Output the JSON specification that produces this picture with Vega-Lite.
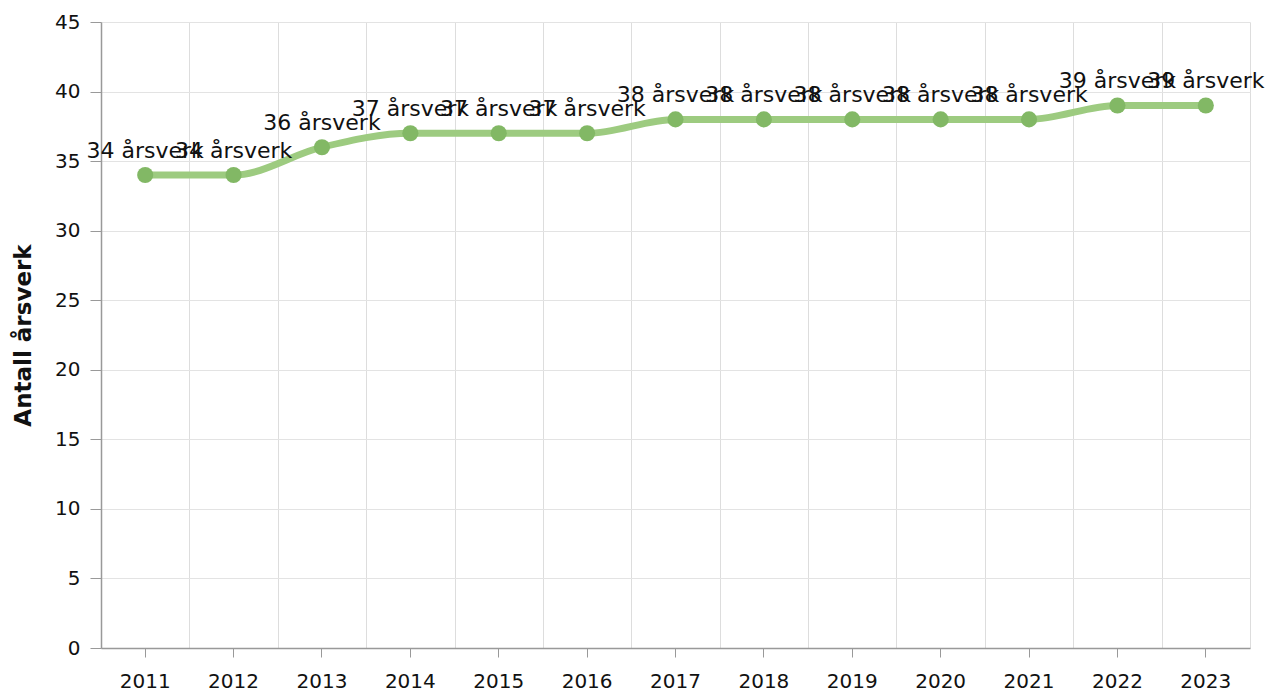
{
  "$schema": "https://vega.github.io/schema/vega-lite/v6.json",
  "width": 1149,
  "height": 626,
  "autosize": {"type": "none"},
  "padding": {"left": 101, "top": 22, "right": 17, "bottom": 46},
  "background": "white",
  "config": {
    "font": "DejaVu Sans",
    "view": {"stroke": null},
    "axis": {"labelFont": "DejaVu Sans", "titleFont": "DejaVu Sans", "labelColor": "#111", "titleColor": "#111"}
  },
  "data": {
    "values": [
      {"year": "2011", "value": 34, "label": "34 årsverk"},
      {"year": "2012", "value": 34, "label": "34 årsverk"},
      {"year": "2013", "value": 36, "label": "36 årsverk"},
      {"year": "2014", "value": 37, "label": "37 årsverk"},
      {"year": "2015", "value": 37, "label": "37 årsverk"},
      {"year": "2016", "value": 37, "label": "37 årsverk"},
      {"year": "2017", "value": 38, "label": "38 årsverk"},
      {"year": "2018", "value": 38, "label": "38 årsverk"},
      {"year": "2019", "value": 38, "label": "38 årsverk"},
      {"year": "2020", "value": 38, "label": "38 årsverk"},
      {"year": "2021", "value": 38, "label": "38 årsverk"},
      {"year": "2022", "value": 39, "label": "39 årsverk"},
      {"year": "2023", "value": 39, "label": "39 årsverk"}
    ]
  },
  "encoding": {
    "y": {"field": "value", "type": "quantitative", "scale": {"domain": [0, 45], "nice": false},
      "axis": {"title": "Antall årsverk", "titleFontSize": 23, "titleFontWeight": "bold", "titlePadding": 19, "labelFontSize": 20, "values": [0,5,10,15,20,25,30,35,40,45], "tickSize": 11, "tickColor": "#999", "domainColor": "#999", "domainWidth": 1.5, "labelPadding": 10, "gridColor": "#e3e3e3", "gridWidth": 1}}
  },
  "layer": [
    {
      "mark": {"type": "line", "interpolate": "monotone", "color": "#9dcb80", "strokeWidth": 7, "strokeCap": "round"},
      "encoding": {
        "x": {"field": "year", "type": "ordinal", "scale": {"type": "band", "paddingInner": 0, "paddingOuter": 0},
          "axis": {"orient": "bottom", "title": null, "labels": false, "ticks": false, "domain": false, "grid": true, "tickBand": "extent", "gridColor": "#dddddd", "gridWidth": 1}}
      }
    },
    {
      "mark": {"type": "point", "filled": true, "size": 260, "color": "#82b865", "opacity": 1},
      "encoding": {
        "x": {"field": "year", "type": "ordinal", "scale": {"type": "band", "paddingInner": 0, "paddingOuter": 0},
          "axis": {"orient": "bottom", "title": null, "labelFontSize": 20, "labelAngle": 0, "grid": false, "tickSize": 9, "tickColor": "#999", "domainColor": "#999", "domainWidth": 1.5, "labelPadding": 14}}
      }
    },
    {
      "mark": {"type": "text", "fontSize": 22, "baseline": "alphabetic", "dy": -17, "color": "#111"},
      "encoding": {
        "x": {"field": "year", "type": "ordinal", "scale": {"type": "band", "paddingInner": 0, "paddingOuter": 0}, "axis": null},
        "text": {"field": "label"}
      }
    }
  ],
  "resolve": {"axis": {"x": "independent"}}
}
